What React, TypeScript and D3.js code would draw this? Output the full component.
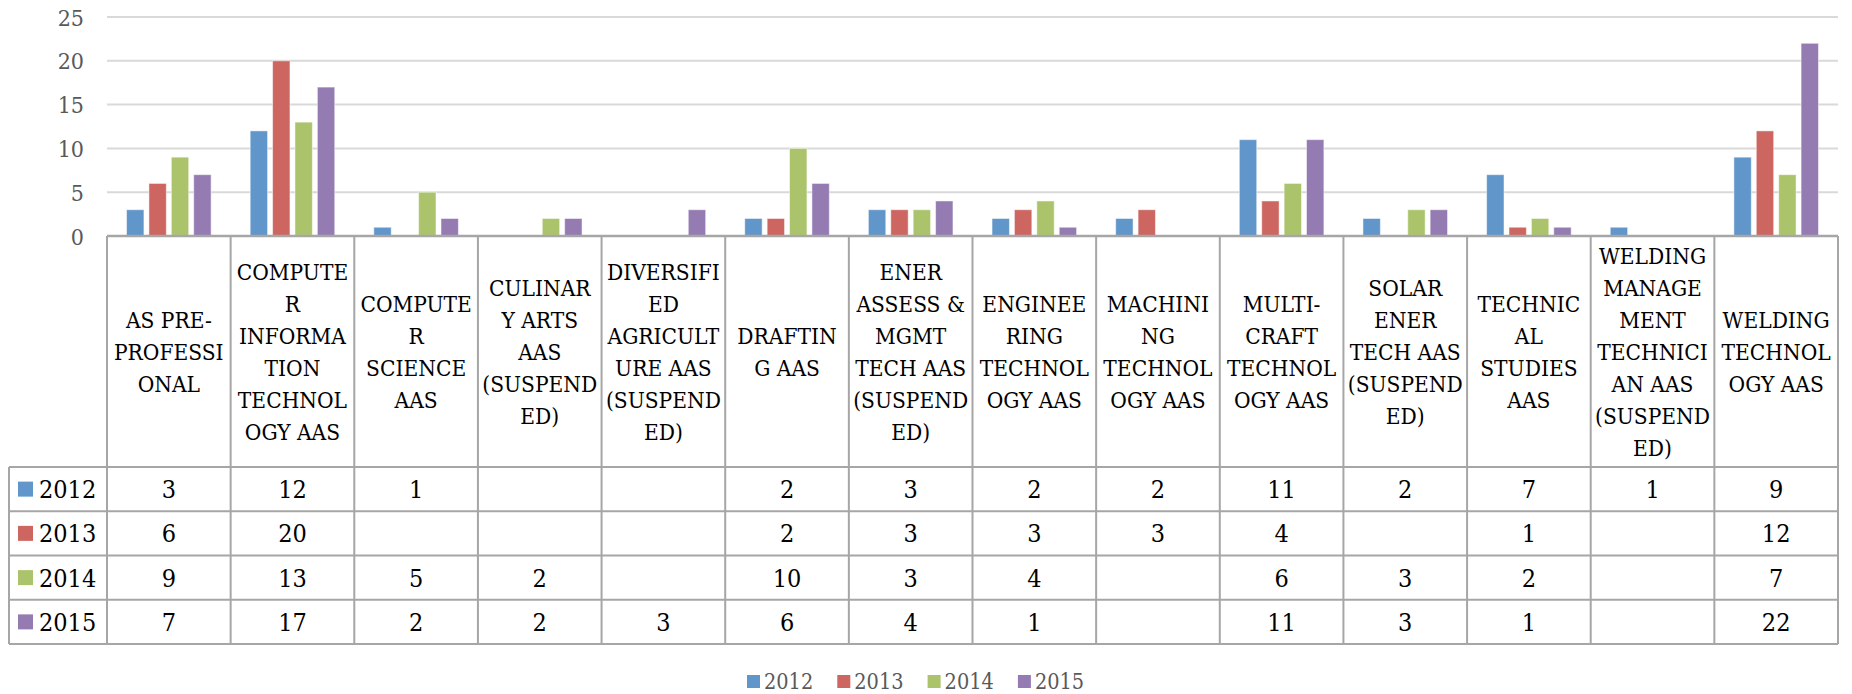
import React from "react";
import * as d3 from "d3";

const categories: string[][] = [
  ["AS PRE-", "PROFESSI", "ONAL"],
  ["COMPUTE", "R", "INFORMA", "TION", "TECHNOL", "OGY AAS"],
  ["COMPUTE", "R", "SCIENCE", "AAS"],
  ["CULINAR", "Y ARTS", "AAS", "(SUSPEND", "ED)"],
  ["DIVERSIFI", "ED", "AGRICULT", "URE AAS", "(SUSPEND", "ED)"],
  ["DRAFTIN", "G AAS"],
  ["ENER", "ASSESS &", "MGMT", "TECH AAS", "(SUSPEND", "ED)"],
  ["ENGINEE", "RING", "TECHNOL", "OGY AAS"],
  ["MACHINI", "NG", "TECHNOL", "OGY AAS"],
  ["MULTI-", "CRAFT", "TECHNOL", "OGY AAS"],
  ["SOLAR", "ENER", "TECH AAS", "(SUSPEND", "ED)"],
  ["TECHNIC", "AL", "STUDIES", "AAS"],
  ["WELDING", "MANAGE", "MENT", "TECHNICI", "AN AAS", "(SUSPEND", "ED)"],
  ["WELDING", "TECHNOL", "OGY AAS"],
];

const seriesNames = ["2012", "2013", "2014", "2015"];
const seriesColors = ["#6196CA", "#CD6661", "#ABC46C", "#947CB2"];

const values2012: (number | null)[] = [3, 12, 1, null, null, 2, 3, 2, 2, 11, 2, 7, 1, 9];
const values2013: (number | null)[] = [6, 20, null, null, null, 2, 3, 3, 3, 4, null, 1, null, 12];
const values2014: (number | null)[] = [9, 13, 5, 2, null, 10, 3, 4, null, 6, 3, 2, null, 7];
const values2015: (number | null)[] = [7, 17, 2, 2, 3, 6, 4, 1, null, 11, 3, 1, null, 22];
const seriesValues = [values2012, values2013, values2014, values2015];

const yTicks = [0, 5, 10, 15, 20, 25];

const W = 1852;
const H = 694;
const plotLeft = 107;
const plotRight = 1838;
const yTop = 17;
const yBottom = 236;
const headerBottom = 467;
const tableBottom = 644;
const tableLeft = 9;
const font = '"DejaVu Serif Condensed", "DejaVu Serif", serif';
const lineColor = "#A6A6A6";

export default function App() {
  const idx = categories.map((_, i) => String(i));
  const x0 = d3.scaleBand<string>().domain(idx).range([plotLeft, plotRight]).padding(0);
  const groupW = x0.bandwidth() * 0.684;
  const x1 = d3
    .scaleBand<string>()
    .domain(seriesNames)
    .range([0, groupW])
    .paddingInner(0.223)
    .paddingOuter(0);
  const y = d3.scaleLinear().domain([0, 25]).range([yBottom, yTop]);
  const rowH = (tableBottom - headerBottom) / seriesNames.length;
  const headerMid = (yBottom + headerBottom) / 2;
  const lh = 32;
  const tStyle = { fontFamily: font, fontStretch: "condensed" as const };

  return (
    <svg
      width={W}
      height={H}
      style={{ position: "absolute", left: 0, top: 0, background: "#fff", fontFamily: font }}
    >
      {yTicks.map((t) =>
        t === 0 ? null : (
          <line key={t} x1={plotLeft} x2={plotRight} y1={y(t)} y2={y(t)} stroke="#D9D9D9" strokeWidth={2} />
        )
      )}
      {yTicks.map((t) => (
        <text key={"yl" + t} style={tStyle} x={84} y={y(t) + 8.5} textAnchor="end" fontSize={23} fill="#595959">
          {t}
        </text>
      ))}
      {categories.map((_, ci) => {
        const gx = (x0(String(ci)) as number) + (x0.bandwidth() - groupW) / 2;
        return seriesNames.map((s, si) => {
          const v = seriesValues[si][ci];
          if (v === null) return null;
          return (
            <rect
              key={ci + "-" + si}
              x={gx + (x1(s) as number)}
              y={y(v)}
              width={x1.bandwidth()}
              height={y(0) - y(v)}
              fill={seriesColors[si]}
              stroke="#ffffff"
              strokeOpacity={0.5}
              strokeWidth={1}
            />
          );
        });
      })}
      <line x1={plotLeft} x2={plotRight} y1={yBottom} y2={yBottom} stroke={lineColor} strokeWidth={2.5} />
      {seriesNames.map((_, ri) => (
        <line
          key={"hr" + ri}
          x1={tableLeft}
          x2={plotRight}
          y1={headerBottom + ri * rowH}
          y2={headerBottom + ri * rowH}
          stroke={lineColor}
          strokeWidth={2}
        />
      ))}
      <line x1={tableLeft} x2={plotRight} y1={tableBottom} y2={tableBottom} stroke={lineColor} strokeWidth={2} />
      <line x1={tableLeft} x2={tableLeft} y1={headerBottom} y2={tableBottom} stroke={lineColor} strokeWidth={2} />
      {idx.concat(["end"]).map((k, i) => {
        const xx = i < categories.length ? (x0(k) as number) : plotRight;
        return (
          <line key={"vl" + i} x1={xx} x2={xx} y1={yBottom} y2={tableBottom} stroke={lineColor} strokeWidth={2} />
        );
      })}
      {categories.map((lines, ci) => {
        const cx = (x0(String(ci)) as number) + x0.bandwidth() / 2;
        const first = headerMid - ((lines.length - 1) / 2) * lh;
        return (
          <text key={"cl" + ci} style={tStyle} textAnchor="middle" fontSize={22.5} fill="#000">
            {lines.map((l, li) => (
              <tspan key={li} x={cx} y={first + li * lh + 8}>
                {l}
              </tspan>
            ))}
          </text>
        );
      })}
      {seriesNames.map((s, ri) => {
        const cy = headerBottom + ri * rowH + rowH / 2;
        return (
          <g key={"row" + s}>
            <rect x={18} y={cy - 7.5} width={15} height={15} fill={seriesColors[ri]} />
            <text x={39} y={cy + 9} style={tStyle} fontSize={25} fill="#000">
              {s}
            </text>
            {seriesValues[ri].map((v, ci) =>
              v === null ? null : (
                <text
                  key={ci}
                  style={tStyle}
                  x={(x0(String(ci)) as number) + x0.bandwidth() / 2}
                  y={cy + 9}
                  textAnchor="middle"
                  fontSize={25}
                  fill="#000"
                >
                  {v}
                </text>
              )
            )}
          </g>
        );
      })}
      {seriesNames.map((s, si) => {
        const lx = 747 + si * 90.3;
        return (
          <g key={"lg" + s}>
            <rect x={lx} y={675} width={13} height={13} fill={seriesColors[si]} />
            <text x={lx + 17} y={689} style={tStyle} fontSize={21.5} fill="#595959">
              {s}
            </text>
          </g>
        );
      })}
    </svg>
  );
}
